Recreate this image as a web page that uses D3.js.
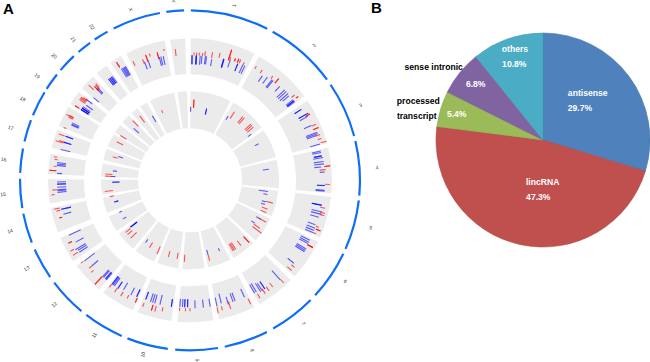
<!DOCTYPE html>
<html><head><meta charset="utf-8">
<script src="https://cdn.jsdelivr.net/npm/d3@7/dist/d3.min.js"></script>
<style>html,body{margin:0;padding:0;background:#fff}svg{display:block}text{font-family:"Liberation Sans",Arial,sans-serif}</style>
</head><body><svg id="c" width="650" height="362"><defs><filter id="soft" x="-5%" y="-5%" width="110%" height="110%"><feGaussianBlur stdDeviation="0.3"/></filter></defs></svg>
<script>
// Chromosomes and their spans on the circular layout (degrees clockwise from top)
const chromosomes=["1","2","3","4","5","6","7","8","9","10","11","12","13","14","15","16","17","18","19","20","21","22","X","Y"];
const chrStart=[0.3,29.1,55.8,76.6,96.8,115.6,134.8,153.1,170.5,187.5,203.7,219.7,235.3,248.5,260.6,272.5,283.2,292.5,302.5,310.4,319,325.9,333.3,352];
const chrEnd=[27,53.7,74.9,95.2,113.8,132.6,150.7,168.2,185,201.6,217.6,233,246,258.7,270.5,280.8,290.7,301.2,308.5,316.9,324,331,349.8,358];
// [layout position, low, high] in track units
const outerBlue=[[.8,10,19],[1.1,10,19],[2.7,10,19],[3,10,19],[3,10,19],[4.7,10,19],[5.5,11,19],[7.1,11,19],[7.6,11,19],[10.2,10,17],[15.5,11,20],[15.5,11,20],[15.7,11,20],[18.5,13,21],[22.3,12,20],[22.3,12,20],[24.6,12,21],[25.6,12,21],
[34.7,14,21],[36.9,15,23],[39.2,14,24],[39.8,14,24],[43.7,17,24],[46.3,14,25],[47.3,14,25],[48.5,14,25],[49.5,16,24],[52,16,25],[52.6,16,25],[52.6,16,25],[53.1,16,25],
[57.5,18,26],[57.5,18,26],[60.4,19,30],[60.4,19,30],[61.5,19,28],[65.7,19,27],[69.3,18,30],[69.9,18,30],[70.5,18,28],[74.4,19,29],
[77.4,19,28],[78,19,28],[79.5,20,28],[79.5,20,28],[80.3,19,29],[82,19,29],[83,19,29],[84.2,19,26],[86.5,24,29],[92.2,21,29],[92.2,21,29],[94.2,20,29],[94.6,20,29],
[100.7,18,28],[100.7,18,28],[100.7,18,28],[103.5,19,30],[104.5,19,30],[106,19,28],[109.5,19,27],[111,19,28],[112,19,28],[113,19,28],
[116.6,18,28],[117.5,18,28],[118.2,18,28],[120.6,18,29],[121.3,18,29],[122,18,29],[128.6,19,27],
[137.8,16,28],[145.4,17,26],[145.4,17,26],[146.8,17,26],[147.6,16,26],[149.3,14,24],[150.2,14,24],
[155,14,23],[159.5,14,23],[160.5,14,23],[162.8,16,24],[165.7,11,21],[167.9,14,23],
[170.9,14,22],[174,14,22],[177.7,14,22],[181.1,13,21],[181.1,13,21],[182.4,13,21],[182.4,13,21],[183.4,13,21],[184.6,13,21],
[188.4,14,22],[188.4,14,22],[193.6,12,22],[196,13,22],[197,13,22],[198,13,22],[200.4,13,21],[200.4,13,21],
[204.6,14,22],[204.6,14,22],[207.3,15,23],[211.3,14,22],[213.7,16,24],[213.7,16,24],[215.6,14,24],[216.2,14,24],[216.8,14,24],[216.8,14,24],
[220,15,24],[220.4,15,24],[220.7,15,24],[221.7,15,24],[222.2,15,24],[228.9,16,24],[232.6,14,27],
[237,16,26],[238,16,26],[238.8,16,28],[241.6,15,24],[245.6,14,27],
[255,17,25],[257.3,16,26],[257.3,16,26],
[264.8,18,27],[265.5,18,27],[265.9,18,27],[267,18,27],[268.2,18,27],[268.5,18,27],[269.3,18,27],
[273,22,27],[276.4,19,28],[277,19,28],[277.6,19,28],
[283.4,17,27],[286.8,18,26],[286.8,18,26],[289.5,18,26],[289.5,18,26],
[295,17,25],[295.4,17,25],[296,17,25],
[303,15,24],[303,15,24],[303,15,24],[303.8,15,24],[303.8,15,24],[303.8,15,24],[304.5,15,24],[305.9,14,22],[308,18,26],
[310.6,14,21],[314.4,17,25],[315,17,25],
[321.2,16,24],[321.2,16,24],[321.9,16,24],[321.9,16,24],[322.6,16,24],[322.6,16,24],[323.2,16,24],
[328.4,15,25],[329,15,25],[329.5,15,25],[330,15,25],[330.5,15,25],
[339,13,21],[340.7,13,21],[346,12,21],[346.7,12,21],[347.8,12,21]];
const outerRed=[[1.8,19,22],[3,19,22],[4.2,19,22],[5.7,19,22],[6.8,19,24],[10,18,24],[13.3,20,25],[17.7,20,31],[17.7,20,31],[18.3,20,24],[20.5,21,24],[20.5,21,24],[21.9,21,25],[21.9,21,25],[22.8,21,25],[24.7,21,24],
[30.2,23,26],[33.2,22,26],[38.5,24,27],[41.1,23,29],[41.1,23,29],[50.8,25,29],[52.2,28,31],[52.2,28,31],
[61.1,26,31],[61.1,26,31],[66,27,32],[67.7,27,33],[67.7,27,33],[70.6,27,32],[72.4,28,32],[74,30,36],
[84.1,29,35],[84.1,29,35],[85.5,24,30],[91.7,29,34],
[101.7,27,32],[103.8,28,33],[104.8,28,33],[110,28,31],[111.2,29,34],[111.2,29,34],[113,28,31],
[118.7,28,34],[118.7,28,34],[118.7,28,34],[129.8,26,30],[131.6,24,30],
[137.6,28,33],[142.2,24,29],[144.4,25,30],[146.4,24,30],[149.3,26,31],
[153.9,26,32],[162.4,21,29],[166,24,28],[168,24,30],
[180,22,25],[182,22,25],[184.6,22,25],
[192,24,28],[195,24,30],[196.5,24,30],[196.5,24,30],[200.5,25,29],
[204.1,23,28],[204.1,23,28],[208,24,28],[210.9,24,29],[214,24,29],[217,24,28],
[222.4,24,35],[222.4,24,35],[227,26,29],[228.9,24,28],[232.8,28,31],
[237.3,27,33],[239.3,29,33],[242.6,27,31],[242.6,27,31],
[253.9,27,30],[253.9,27,30],[257,27,31],[258,27,33],
[264,30,33],[265.9,27,32],
[274.1,28,35],[274.1,28,35],[275.9,28,31],[278.8,28,31],[279.8,29,32],
[286.4,26,34],[286.9,26,31],[289.5,27,33],
[292.7,28,31],[297.5,26,31],[298,26,34],[298.3,26,31],
[303,26,31],[303,26,31],[306.2,24,31],[306.8,24,31],[307.3,24,31],[307.8,24,29],
[313.2,26,33],[314.5,22,28],[314.5,22,28],[315.2,22,28],[315.7,24,29],
[328.1,27,33],[328.1,27,33],
[334.4,21,26],[338.6,19,24],[340.5,20,27],[340.5,20,27],[342.2,24,27],[345.6,19,26],[345.6,19,26],[348.7,26,28],
[353.6,19,26]];
const innerBlue=[[.5,16,21],[13.1,15,21],[13.1,15,21],[30.7,18,22],[53,20,24],[62,21,25],[82,21,27],[98.2,17,26],[100.4,22,26],[105.9,22,26],[107.9,22,26],[118.8,23,28],[123.5,21,25],[157.3,21,24],[166.4,19,24],[215.5,20,24],[231.8,15,23],[231.8,15,23],[231.8,15,23],[240,21,25],[245.6,22,25],[254,22,26],[254,22,26],[268.6,18,25],[268.6,18,25],[272.8,22,26],[277,21,25],[288.4,18,23],[312.7,17,24],[329.7,15,22]];
const innerRed=[[2.8,20,28],[2.8,20,28],[33,21,29],[39.7,22,30],[41,22,30],[47.3,22,30],[48.5,22,30],[50,22,30],[105.4,26,33],[110.4,24,30],[113,24,30],[118.8,26,34],[124.5,25,32],[126.5,25,36],[136.4,25,33],[136.4,25,33],[142,24,30],[146.4,22,30],[147.5,22,30],[148.5,22,30],[166.3,24,30],[184,22,29],[189.3,21,27],[195.8,21,27],[204.2,20,28],[211,20,26],[225.7,22,30],[229,24,30],[231,24,30],[258.5,25,29],[262.5,25,33],[272.8,25,32],[274.3,25,32],[287,23,28],[297.8,23,30],[302.8,23,30],[316.2,22,30],[322,21,29],[338,20,23]];
// Pie chart
const pieNames=["antisense","lincRNA","processed transcript","sense intronic","others"];
const pieValues=[29.7,47.3,5.4,6.8,10.8];
const pieColours=["#4f81bd","#c0504d","#9bbb59","#8064a2","#4bacc6"];

const svg=d3.select("#c");
const cx=190,cy=180.3;
const ang=d3.scaleLinear().domain([0,360]).range([0,2*Math.PI]);
const tracks=[{range:[106,142],blue:outerBlue,red:outerRed},{range:[52,89],blue:innerBlue,red:innerRed}];
const g=svg.append("g").attr("transform",`translate(${cx},${cy})`);
const arc=d3.arc();
tracks.forEach(t=>{
  const r=d3.scaleLinear().domain([0,36]).range(t.range);
  g.append("g").selectAll("path").data(chromosomes).join("path").attr("fill","#ebebeb")
   .attr("d",(d,i)=>arc({innerRadius:t.range[0],outerRadius:t.range[1],startAngle:ang(chrStart[i]),endAngle:ang(chrEnd[i])}));
  const line=d3.lineRadial().angle(d=>d[0]).radius(d=>d[1]);
  [[t.blue,"#0000ff",.62],[t.red,"#ff0000",.65]].forEach(([data,col,op])=>{
    g.append("g").attr("filter","url(#soft)").selectAll("path").data(data).join("path").attr("fill","none").attr("stroke",col)
     .attr("stroke-opacity",op).attr("stroke-width",1.1)
     .attr("d",d=>line([[ang(d[0]),r(d[1])],[ang(d[0]),r(d[2])]]));
  });
});
g.append("g").selectAll("path").data(chromosomes).join("path").attr("fill","#0f6ef5")
 .attr("d",(d,i)=>arc({innerRadius:168.9,outerRadius:171.1,startAngle:ang(chrStart[i]),endAngle:ang(chrEnd[i])}));
g.append("g").selectAll("text").data(chromosomes).join("text")
 .attr("font-size",5).attr("fill","#333").attr("text-anchor","middle").attr("dy","0.35em")
 .attr("transform",(d,i)=>{const a=(chrStart[i]+chrEnd[i])/2,t=ang(a);
   return `translate(${187.5*Math.sin(t)},${-180*Math.cos(t)}) rotate(${a>180?a-270:a-90})`;})
 .text(d=>d);

const pieG=svg.append("g").attr("transform","translate(543,140)");
const pie=d3.pie().sort(null)(pieValues);
const parc=d3.arc().innerRadius(0).outerRadius(107);
pieG.selectAll("path").data(pie).join("path").attr("d",parc).attr("fill",(d,i)=>pieColours[i])
 .attr("stroke",(d,i)=>d3.color(pieColours[i]).darker(.25)).attr("stroke-width",.6);

const labelRows=[["antisense",587.7,92.7,"#fff"],["29.7%",580,107.7,"#fff"],["others",515,49,"#fff"],["10.8%",514.3,64,"#fff"],["sense intronic",433.7,66.7,"#000"],["6.8%",475.7,84.3,"#fff"],["processed",418.3,101,"#000"],["transcript",416.7,116,"#000"],["5.4%",456.7,113.7,"#fff"],["lincRNA",542.7,181.7,"#fff"],["47.3%",538.3,196.7,"#fff"]];
svg.append("g").selectAll("text").data(labelRows).join("text").attr("x",d=>d[1]).attr("y",d=>d[2])
 .attr("dy","0.35em").attr("text-anchor","middle").attr("font-size",8.6).attr("font-weight","bold").attr("fill",d=>d[3]).text(d=>d[0]);
svg.append("text").attr("x",3).attr("y",13.5).attr("font-size",15).attr("font-weight","bold").text("A");
svg.append("text").attr("x",371).attr("y",12.5).attr("font-size",15).attr("font-weight","bold").text("B");
</script></body></html>
